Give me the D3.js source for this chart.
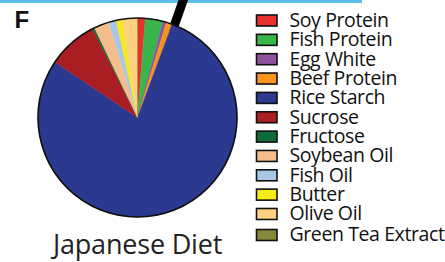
<!DOCTYPE html>
<html>
<head>
<meta charset="utf-8">
<script src="https://cdn.jsdelivr.net/npm/d3@7"></script>
<style>
  html, body { margin: 0; padding: 0; background: #fff; }
  svg { display: block; }
</style>
</head>
<body>
<svg id="chart" width="445" height="262"></svg>
<script>
// ---- data ----
const categories = ["Soy Protein", "Fish Protein", "Egg White", "Beef Protein", "Rice Starch",
  "Sucrose", "Fructose", "Soybean Oil", "Fish Oil", "Butter", "Olive Oil", "Green Tea Extract"];
const values = [1.25, 2.9, 0.55, 0.95, 78.7, 8.14, 0.33, 2.5, 1.2, 1.0, 2.42, 0];
const colors = ["#e8312f", "#3ab54a", "#8e52a1", "#f7941d", "#2b3990", "#a81e23",
  "#0f6b38", "#f6bd8c", "#a7c7e7", "#f4eb19", "#fdd17f", "#858739"];
const chartTitle = "Japanese Diet";
const panelLabel = "F";

const svg = d3.select("#chart");

// top decorative band
svg.append("rect").attr("x", 0).attr("y", 0).attr("width", 362).attr("height", 3)
  .attr("fill", "#5bbfe9");

// pointer line (decoration)
svg.append("line").attr("x1", 172).attr("y1", 32).attr("x2", 184).attr("y2", -2)
  .attr("stroke", "#000").attr("stroke-width", 9);

// pie
const cx = 137.5, cy = 117.5, r = 99.5;
const pie = d3.pie().sort(null).value(d => d.v);
const arc = d3.arc().innerRadius(0).outerRadius(r);
const data = categories.map((c, i) => ({ c, v: values[i], col: colors[i] }));
const g = svg.append("g").attr("transform", `translate(${cx},${cy})`);
g.selectAll("path").data(pie(data)).join("path")
  .attr("d", arc)
  .attr("fill", d => d.data.col)
  .attr("stroke", d => d.data.col)
  .attr("stroke-width", 0.4);
g.append("circle").attr("r", r).attr("fill", "none").attr("stroke", "#111").attr("stroke-width", 1.6);

// panel label
svg.append("text").attr("x", 14.5).attr("y", 27.5).text(panelLabel)
  .attr("font-family", "Liberation Sans, Arial, sans-serif").attr("font-weight", "bold")
  .attr("font-size", 24).attr("fill", "#111");

// title
svg.append("text").attr("x", cx).attr("y", 254).attr("text-anchor", "middle")
  .text(chartTitle)
  .attr("font-family", "Open Sans, sans-serif").attr("font-size", 27).attr("fill", "#222")
  .attr("letter-spacing", -0.2);

// legend
const rowY = d3.scalePoint().domain(categories.slice(0, 11)).range([20.5, 214]);
const yOf = (c, i) => i < 11 ? rowY(c) : 235;
const leg = svg.append("g");
const items = leg.selectAll("g").data(data).join("g")
  .attr("transform", (d, i) => `translate(0,${yOf(d.c, i)})`);
items.append("rect").attr("x", 256.5).attr("y", -5.5).attr("width", 20.5).attr("height", 11)
  .attr("fill", d => d.col).attr("stroke", "#111").attr("stroke-width", 1.6);
items.append("text").attr("x", 289.5).attr("y", 6.3)
  .text(d => d.c)
  .attr("font-family", "Open Sans, sans-serif").attr("font-size", 19.5).attr("fill", "#111")
  .attr("letter-spacing", -0.4);
</script>
</body>
</html>
